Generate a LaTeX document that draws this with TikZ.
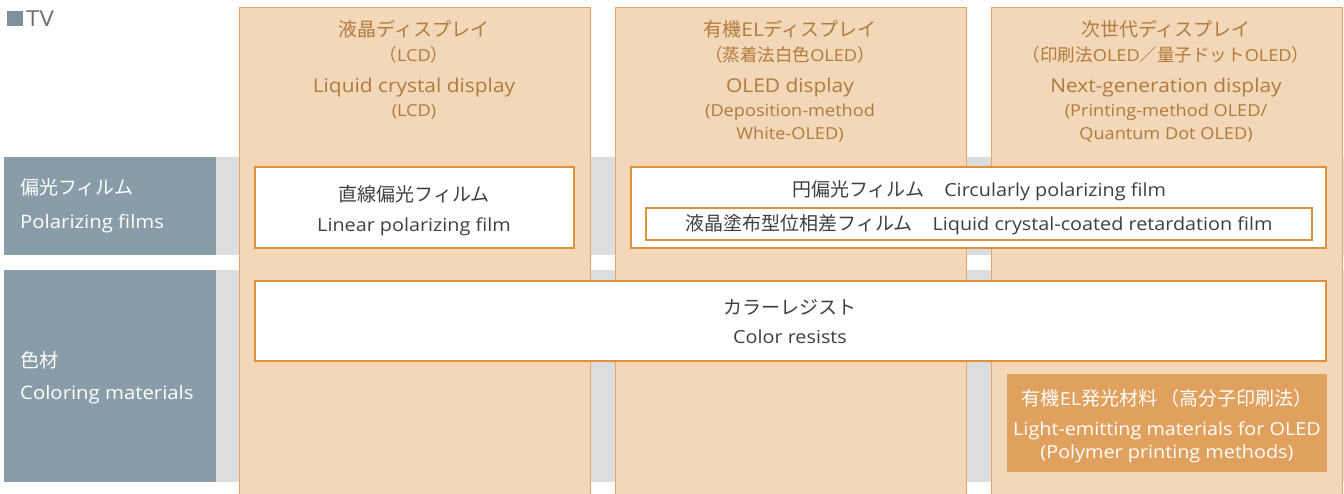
\documentclass[tikz,border=0pt]{standalone}
\usepackage{fontspec}
\setmainfont{Open Sans}[FakeStretch=1.1]
\newfontfamily\jp{Noto Sans CJK JP}
\newcommand{\jpbig}{\jp\fontsize{19}{22}\selectfont}
\newcommand{\jpsm}{\jp\fontsize{17.5}{20}\selectfont}
\definecolor{colfill}{HTML}{F2D7B8}
\definecolor{colline}{HTML}{E4A667}
\definecolor{boxline}{HTML}{E08F3C}
\definecolor{hdtext}{HTML}{B27A3C}
\definecolor{labfill}{HTML}{899DA8}
\definecolor{band}{HTML}{DCDDDF}
\definecolor{bodytext}{HTML}{3F3F3F}
\definecolor{orfill}{HTML}{E0A05E}
\definecolor{tvsq}{HTML}{7F909B}
\definecolor{tvtext}{HTML}{6E6F71}
\begin{document}
\begin{tikzpicture}[x=1pt,y=-1pt,
  rect/.style={rectangle,inner sep=0pt,outer sep=0pt,anchor=north west},
  colbox/.style={rect,fill=colfill,draw=colline,line width=1pt},
  bandbox/.style={rect,fill=band},
  labbox/.style={rect,fill=labfill},
  wbox/.style={rect,fill=white,draw=boxline,line width=2pt},
  hdbig/.style={anchor=base,text=hdtext,font=\fontsize{19}{22}\selectfont,inner sep=0pt},
  hdsmall/.style={anchor=base,text=hdtext,font=\fontsize{16.5}{19}\selectfont,inner sep=0pt},
  body/.style={anchor=base,text=bodytext,font=\fontsize{18}{21}\selectfont,inner sep=0pt},
  labtext/.style={anchor=base west,text=white,font=\fontsize{18.5}{21}\selectfont,inner sep=0pt},
  wtext/.style={anchor=base,text=white,font=\fontsize{18}{21}\selectfont,inner sep=0pt}
]
\useasboundingbox (0,0) rectangle (1344,494);
% gray bands
\node[bandbox,minimum width=1128pt,minimum height=98pt] (band1) at (216,157) {};
\node[bandbox,minimum width=1128pt,minimum height=212pt] (band2) at (216,270) {};
% labels
\node[labbox,minimum width=212pt,minimum height=98pt] (lab1) at (4,157) {};
\node[labbox,minimum width=212pt,minimum height=212pt] (lab2) at (4,270) {};
\node[labtext] (lab1a) at (20,195) {\jpbig 偏光フィルム};
\node[labtext] (lab1b) at (20,229) {Polarizing films};
\node[labtext] (lab2a) at (20,367) {\jpbig 色材};
\node[labtext] (lab2b) at (20,399) {Coloring materials};
% TV
\node[rect,fill=tvsq,minimum width=16pt,minimum height=15pt] (tvsq) at (7,11) {};
\node[anchor=base west,inner sep=0pt,text=tvtext,font=\fontsize{22}{25}\selectfont] (tv) at (26,27) {TV};
% columns
\node[colbox,minimum width=351pt,minimum height=490pt] (col1) at (239,8) {};
\node[colbox,minimum width=351pt,minimum height=490pt] (col2) at (615,8) {};
\node[colbox,minimum width=351pt,minimum height=490pt] (col3) at (991,8) {};
% column headers
\node[hdbig] (c1a) at (414,37) {\jpbig 液晶ディスプレイ};
\node[hdsmall] (c1b) at (414,62) {{\jpsm （}LCD{\jpsm ）}};
\node[hdbig] (c1c) at (414,93) {Liquid crystal display};
\node[hdsmall] (c1d) at (414,117) {(LCD)};
\node[hdbig] (c2a) at (790,37) {{\jpbig 有機}EL{\jpbig ディスプレイ}};
\node[hdsmall] (c2b) at (790,62) {{\jpsm （蒸着法白色}OLED{\jpsm ）}};
\node[hdbig] (c2c) at (790,93) {OLED display};
\node[hdsmall] (c2d) at (790,117) {(Deposition-method};
\node[hdsmall] (c2e) at (790,140) {White-OLED)};
\node[hdbig] (c3a) at (1166,37) {\jpbig 次世代ディスプレイ};
\node[hdsmall] (c3b) at (1166,62) {{\jpsm （印刷法}OLED{\jpsm ／量子ドット}OLED{\jpsm ）}};
\node[hdbig] (c3c) at (1166,93) {Next-generation display};
\node[hdsmall] (c3d) at (1166,117) {(Printing-method OLED/};
\node[hdsmall] (c3e) at (1166,140) {Quantum Dot OLED)};
% polarizing boxes
\node[wbox,minimum width=319pt,minimum height=81pt] (lin) at (255,167) {};
\node[body] (lina) at (414,202) {\jpbig 直線偏光フィルム};
\node[body] (linb) at (414,232) {Linear polarizing film};
\node[wbox,minimum width=695pt,minimum height=81pt] (circ) at (631,167) {};
\node[body] (circa) at (979,197) {{\jpbig 円偏光フィルム}\hspace{20pt}Circularly polarizing film};
\node[wbox,minimum width=666pt,minimum height=32pt] (ret) at (646,208) {};
\node[body] (reta) at (979,231) {{\jpbig 液晶塗布型位相差フィルム}\hspace{20pt}Liquid crystal-coated retardation film};
% color resists
\node[wbox,minimum width=1071pt,minimum height=80pt] (cr) at (255,281) {};
\node[body] (cra) at (790,315) {\jpbig カラーレジスト};
\node[body] (crb) at (790,344) {Color resists};
% light emitting materials
\node[rect,fill=orfill,minimum width=320pt,minimum height=98pt] (lem) at (1007,374) {};
\node[wtext] (lema) at (1167,405) {{\jpbig 有機}EL{\jpbig 発光材料\hspace{3pt}（高分子印刷法）}};
\node[wtext] (lemb) at (1167,435) {Light-emitting materials for OLED};
\node[wtext] (lemc) at (1167,458) {(Polymer printing methods)};
\end{tikzpicture}
\end{document}
